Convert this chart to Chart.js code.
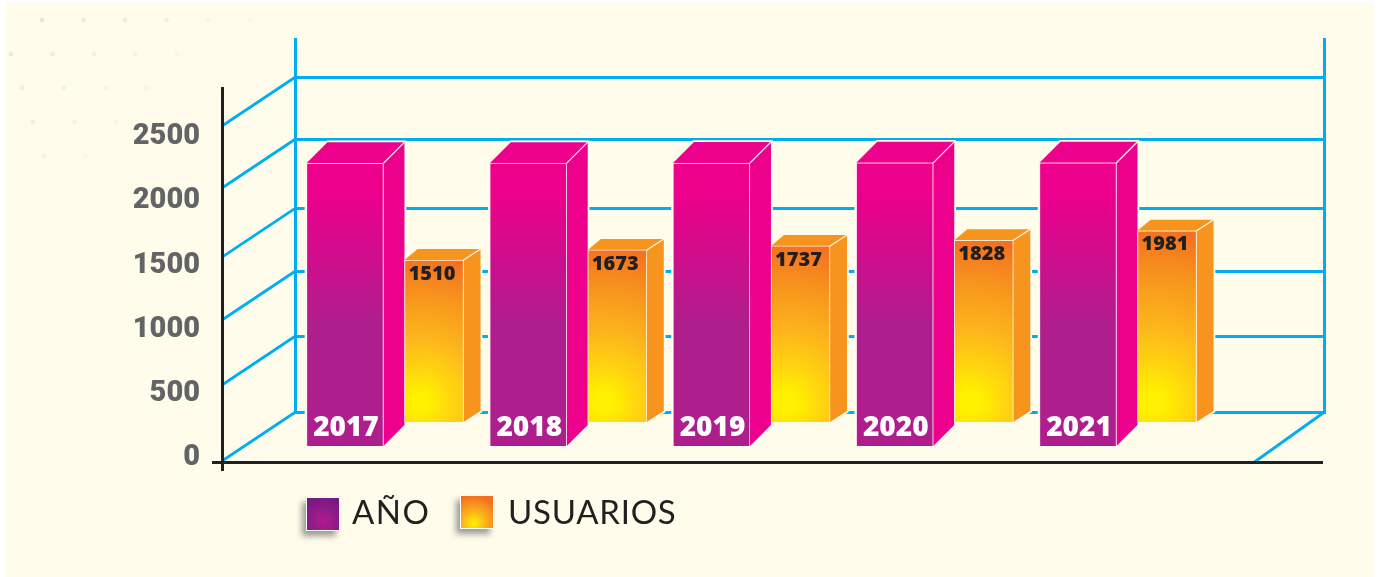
<!DOCTYPE html>
<html lang="es">
<head>
<meta charset="utf-8">
<style>
html,body{margin:0;padding:0;background:#fff;width:1381px;height:577px;overflow:hidden}
#wrap{position:absolute;left:0;top:0;width:1381px;height:577px}
canvas{display:block}
</style>
<script src="https://cdn.jsdelivr.net/npm/chart.js@4"></script>
</head>
<body>
<div id="wrap"><canvas id="c" width="1381" height="577"></canvas></div>
<script>
const categorias = [2017, 2018, 2019, 2020, 2021];
const anio = [2017, 2018, 2019, 2020, 2021];
const usuarios = [1510, 1673, 1737, 1828, 1981];
const etiquetasEje = [0, 500, 1000, 1500, 2000, 2500];
const lineasPared = [-23.4, 568.5, 1075, 1565, 2103, 2586];

const CREMA = '#FFFCEC', AZUL = '#00AEEF', NEGRO = '#231F20';
const PROF_ANIO = {dxL: 21, dxR: 21, dy: 21};
const PROF_USU = {dxL: 13, dxR: 17, dy: 11};
const ORIGEN_USU = 0.486;

function halo3D(g, b, p) {
  const L = b.x - b.width / 2, R = b.x + b.width / 2, T = b.y, B = b.base;
  g.save();
  g.strokeStyle = CREMA; g.fillStyle = CREMA; g.lineWidth = 3.5; g.lineJoin = 'miter';
  g.beginPath();
  g.moveTo(L, B); g.lineTo(L, T); g.lineTo(L + p.dxL, T - p.dy); g.lineTo(R + p.dxR, T - p.dy);
  g.lineTo(R + p.dxR, B - p.dy); g.lineTo(R, B); g.closePath();
  g.stroke(); g.fill();
  g.restore();
}
function caras3D(g, b, p, lado, tapa) {
  const L = b.x - b.width / 2, R = b.x + b.width / 2, T = b.y, B = b.base;
  g.save();
  g.fillStyle = lado;
  g.beginPath(); g.moveTo(R, T); g.lineTo(R + p.dxR, T - p.dy); g.lineTo(R + p.dxR, B - p.dy); g.lineTo(R, B); g.closePath(); g.fill();
  g.fillStyle = tapa;
  g.beginPath(); g.moveTo(L, T); g.lineTo(L + p.dxL, T - p.dy); g.lineTo(R + p.dxR, T - p.dy); g.lineTo(R, T); g.closePath(); g.fill();
  g.strokeStyle = 'rgba(255,255,255,0.9)'; g.lineWidth = 1.2;
  g.beginPath(); g.moveTo(R, T); g.lineTo(R + p.dxR, T - p.dy); g.stroke();
  g.restore();
}

const fondo = {
  id: 'fondo',
  beforeDraw(chart) {
    const g = chart.ctx;
    g.save();
    g.fillStyle = '#fff'; g.fillRect(0, 0, 1381, 577);
    g.fillStyle = CREMA; g.fillRect(6, 3, 1368, 574);
    for (let r = 0; r < 5; r++) {
      for (let i = 0; i < 6 - r; i++) {
        const a = Math.max(0.03, 0.2 - 0.025 * r - 0.03 * i);
        g.fillStyle = 'rgba(150,150,170,' + a + ')';
        g.beginPath();
        g.arc(42 + i * 41.5 + (r === 0 ? 0 : (r - 1) * 11 - 31), 20 + r * 34, 2.4, 0, Math.PI * 2);
        g.fill();
      }
    }
    g.restore();
  }
};

const paredes = {
  id: 'paredes',
  beforeDatasetsDraw(chart) {
    const g = chart.ctx, a = chart.chartArea, y = chart.scales.y;
    const dx = 73, dy = 49, xB = a.left + dx + 0.5, xR = a.right + 1.5;
    g.save();
    g.strokeStyle = AZUL; g.lineCap = 'butt';
    g.lineWidth = 3;
    lineasPared.forEach(v => {
      const p = Math.round(y.getPixelForValue(v) - dy) + 0.5;
      g.beginPath(); g.moveTo(xB, p); g.lineTo(xR, p); g.stroke();
    });
    const suelo = y.getPixelForValue(lineasPared[0]) - dy;
    [xB, xR].forEach(x => {
      g.beginPath(); g.moveTo(x, a.top - 50); g.lineTo(x, suelo + 2); g.stroke();
    });
    g.lineWidth = 2.8;
    lineasPared.forEach(v => {
      const p = y.getPixelForValue(v);
      g.beginPath(); g.moveTo(a.left, p); g.lineTo(xB, p - dy); g.stroke();
    });
    g.beginPath(); g.moveTo(xR - 70, a.bottom + 1); g.lineTo(xR, suelo); g.stroke();
    // visible axes
    g.strokeStyle = NEGRO; g.lineWidth = 3;
    g.beginPath(); g.moveTo(a.left + 0.5, a.top - 1); g.lineTo(a.left + 0.5, a.bottom + 10); g.stroke();
    g.beginPath(); g.moveTo(a.left - 10, a.bottom + 1.5); g.lineTo(a.right, a.bottom + 1.5); g.stroke();
    g.restore();
    // 3D faces
    const m0 = chart.getDatasetMeta(0).data, m1 = chart.getDatasetMeta(1).data;
    m0.forEach(b => halo3D(g, b, PROF_ANIO));
    m1.forEach(b => halo3D(g, b, PROF_USU));
    m0.forEach(b => caras3D(g, b, PROF_ANIO, '#EC008C', '#EC008C'));
    m1.forEach(b => caras3D(g, b, PROF_USU, '#F7941D', '#F7941D'));
  },
  afterDatasetsDraw(chart) {
    const g = chart.ctx;
    g.save();
    g.textAlign = 'center'; g.textBaseline = 'middle';
    g.fillStyle = '#FFFFFF'; g.font = '800 28px "Open Sans", sans-serif';
    chart.getDatasetMeta(0).data.forEach((b, i) => g.fillText(String(categorias[i]), b.x + 1, b.base - 18));
    g.fillStyle = NEGRO; g.font = '800 20px "Open Sans", sans-serif';
    chart.getDatasetMeta(1).data.forEach((b, i) => g.fillText(String(usuarios[i]), b.x - 2, b.y + 14));
    // legend
    const items = [
      {x: 307, y: 498, lab: chart.data.datasets[0].label, tx: 352, ls: '1.5px', grad: [[.5, .72, 0, '#B01C8E'], [.5, .72, 1, '#6E1A80']]},
      {x: 461, y: 496, lab: chart.data.datasets[1].label, tx: 508, ls: '0.75px', grad: [[.4, .85, 0, '#FFF200'], [.4, .85, .45, '#FBB01C'], [.4, .85, 1, '#F37021']]}
    ];
    items.forEach(it => {
      const s = 32;
      g.save();
      g.shadowColor = 'rgba(90,90,90,0.6)'; g.shadowBlur = 6; g.shadowOffsetX = -4; g.shadowOffsetY = 5;
      g.fillStyle = '#fff'; g.fillRect(it.x - 1, it.y - 1, s + 2, s + 2);
      g.restore();
      const cx = it.x + it.grad[0][0] * s, cy = it.y + it.grad[0][1] * s;
      const gr = g.createRadialGradient(cx, cy, 0, cx, cy, s * 0.85);
      it.grad.forEach(st => gr.addColorStop(st[2], st[3]));
      g.fillStyle = gr; g.fillRect(it.x, it.y, s, s);
      g.fillStyle = NEGRO; g.textAlign = 'left'; g.textBaseline = 'alphabetic';
      g.font = '400 33px Lato, "DejaVu Sans", sans-serif';
      g.letterSpacing = it.ls;
      g.fillText(it.lab, it.tx, 524);
      g.letterSpacing = '0px';
    });
    g.restore();
  }
};

function gradAnio(ctx) {
  const ch = ctx.chart, s = ch.scales.yAnio;
  if (!s) return '#AE1E8C';
  const top = s.getPixelForValue(anio[ctx.dataIndex] || 2017), base = s.getPixelForValue(0);
  if (!isFinite(top) || !isFinite(base) || top === base) return '#AE1E8C';
  const gr = ch.ctx.createLinearGradient(0, top, 0, base);
  gr.addColorStop(0, '#EC008C'); gr.addColorStop(0.12, '#EC008C');
  gr.addColorStop(0.58, '#AE1E8C'); gr.addColorStop(1, '#AE1E8C');
  return gr;
}
const BASE_USU = -1093;
function gradUsu(ctx) {
  const ch = ctx.chart, s = ch.scales.yUsu, xs = ch.scales.x;
  if (!s || !xs) return '#F7941D';
  const v = usuarios[ctx.dataIndex] || usuarios[0];
  const top = s.getPixelForValue(v), base = s.getPixelForValue(BASE_USU);
  const cx = xs.getPixelForValue((ctx.dataIndex || 0) + ORIGEN_USU) - 14, cy = base - 20;
  if (![top, base, cx, cy].every(isFinite) || base <= top) return '#F7941D';
  const gr = ch.ctx.createRadialGradient(cx, cy, 0, cx, cy, base - top);
  gr.addColorStop(0, '#FFF200'); gr.addColorStop(0.06, '#FFF000');
  gr.addColorStop(0.2, '#FFD50F'); gr.addColorStop(0.4, '#FDB51C'); gr.addColorStop(0.66, '#F7941D'); gr.addColorStop(0.9, '#F37021'); gr.addColorStop(1, '#F37021');
  return gr;
}

new Chart(document.getElementById('c'), {
  type: 'bar',
  data: {
    datasets: [
      {
        label: 'AÑO',
        data: categorias.map((c, i) => ({x: i, y: anio[i]})),
        yAxisID: 'yAnio', barThickness: 77, grouped: false,
        backgroundColor: gradAnio, borderColor: 'rgba(255,235,245,0.65)', borderWidth: 1
      },
      {
        label: 'USUARIOS',
        data: categorias.map((c, i) => ({x: i + ORIGEN_USU, y: usuarios[i]})),
        yAxisID: 'yUsu', base: BASE_USU, barThickness: 59, grouped: false,
        backgroundColor: gradUsu, borderColor: 'rgba(255,240,215,0.85)', borderWidth: 1
      }
    ]
  },
  options: {
    responsive: false, animation: false,
    layout: {padding: {left: 0, right: 58, top: 88, bottom: 116}},
    plugins: {legend: {display: false}, tooltip: {enabled: false}, title: {display: false}},
    scales: {
      x: {type: 'linear', display: false, offset: false, min: -0.671, max: 5.337, grid: {display: false}},
      y: {
        position: 'left', min: -23.4, max: 2882,
        afterBuildTicks(s) { s.ticks = etiquetasEje.map(v => ({value: v})); },
        afterFit(s) { s.width = 222; },
        grid: {display: false, drawTicks: false}, border: {display: false},
        ticks: {autoSkip: false, padding: 22, color: '#636466', callback: v => String(v), font: {family: 'Roboto, sans-serif', weight: '900', size: 29}}
      },
      yAnio: {display: false, min: -107, max: 2554, grid: {display: false}},
      yUsu: {display: false, min: -1720, max: 4276, grid: {display: false}}
    }
  },
  plugins: [fondo, paredes]
});
</script>
</body>
</html>
